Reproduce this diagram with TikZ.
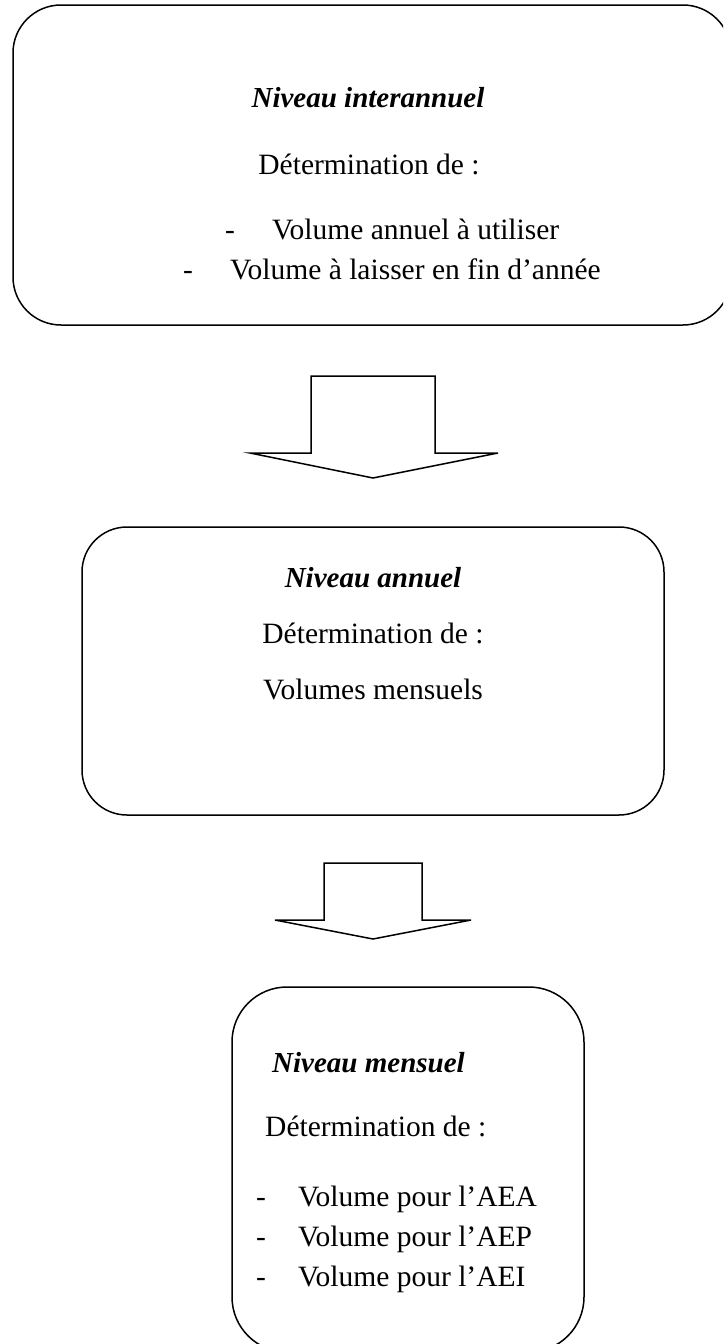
\documentclass[tikz,border=0pt]{standalone}
\usepackage{fontspec}
\setmainfont{Liberation Serif}
\begin{document}
\begin{tikzpicture}[x=1pt,y=-1pt,
  box/.style={draw, line width=1.5pt, rounded corners=#1},
  txt/.style={inner sep=0pt, font=\fontsize{29.5}{35}\selectfont},
  ttl/.style={inner sep=0pt, font=\fontsize{29}{35}\selectfont\bfseries\itshape},
  blockarrow/.style={draw, line width=1.5pt, line join=miter}]
\useasboundingbox (0,0) rectangle (723,1344);
\clip (0,0) rectangle (723,1344);
% box 1
\draw[box=48pt] (13,5) rectangle (731,325);
\node[ttl, anchor=base] (t1) at (368,107) {Niveau interannuel};
\node[txt, anchor=base] (d1) at (369,174) {Détermination de :};
\node[txt, anchor=base west] (m1a) at (225,239) {-};
\node[txt, anchor=base west] (l1a) at (272,239) {Volume annuel à utiliser};
\node[txt, anchor=base west] (m1b) at (183,279) {-};
\node[txt, anchor=base west] (l1b) at (230,279) {Volume à laisser en fin d’année};
% arrow 1
\draw[blockarrow] (311,376) -- (435,376) -- (435,453) -- (498,453) -- (373,478) -- (250,453) -- (311,453) -- cycle;
% box 2
\draw[box=45pt] (82,527) rectangle (664,815);
\node[ttl, anchor=base] (t2) at (373,587) {Niveau annuel};
\node[txt, anchor=base] (d2) at (373,643) {Détermination de :};
\node[txt, anchor=base] (l2) at (373,699) {Volumes mensuels};
% arrow 2
\draw[blockarrow] (324,863) -- (422,863) -- (422,920) -- (471,920) -- (373,939) -- (275,920) -- (324,920) -- cycle;
% box 3
\draw[box=55pt] (232,987) rectangle (584,1352);
\node[ttl, anchor=base west] (t3) at (272,1072) {Niveau mensuel};
\node[txt, anchor=base west] (d3) at (265,1136) {Détermination de :};
\node[txt, anchor=base west] (m3a) at (256,1206) {-};
\node[txt, anchor=base west] (l3a) at (298,1206) {Volume pour l’AEA};
\node[txt, anchor=base west] (m3b) at (256,1246) {-};
\node[txt, anchor=base west] (l3b) at (298,1246) {Volume pour l’AEP};
\node[txt, anchor=base west] (m3c) at (256,1286) {-};
\node[txt, anchor=base west] (l3c) at (298,1286) {Volume pour l’AEI};
\end{tikzpicture}
\end{document}
